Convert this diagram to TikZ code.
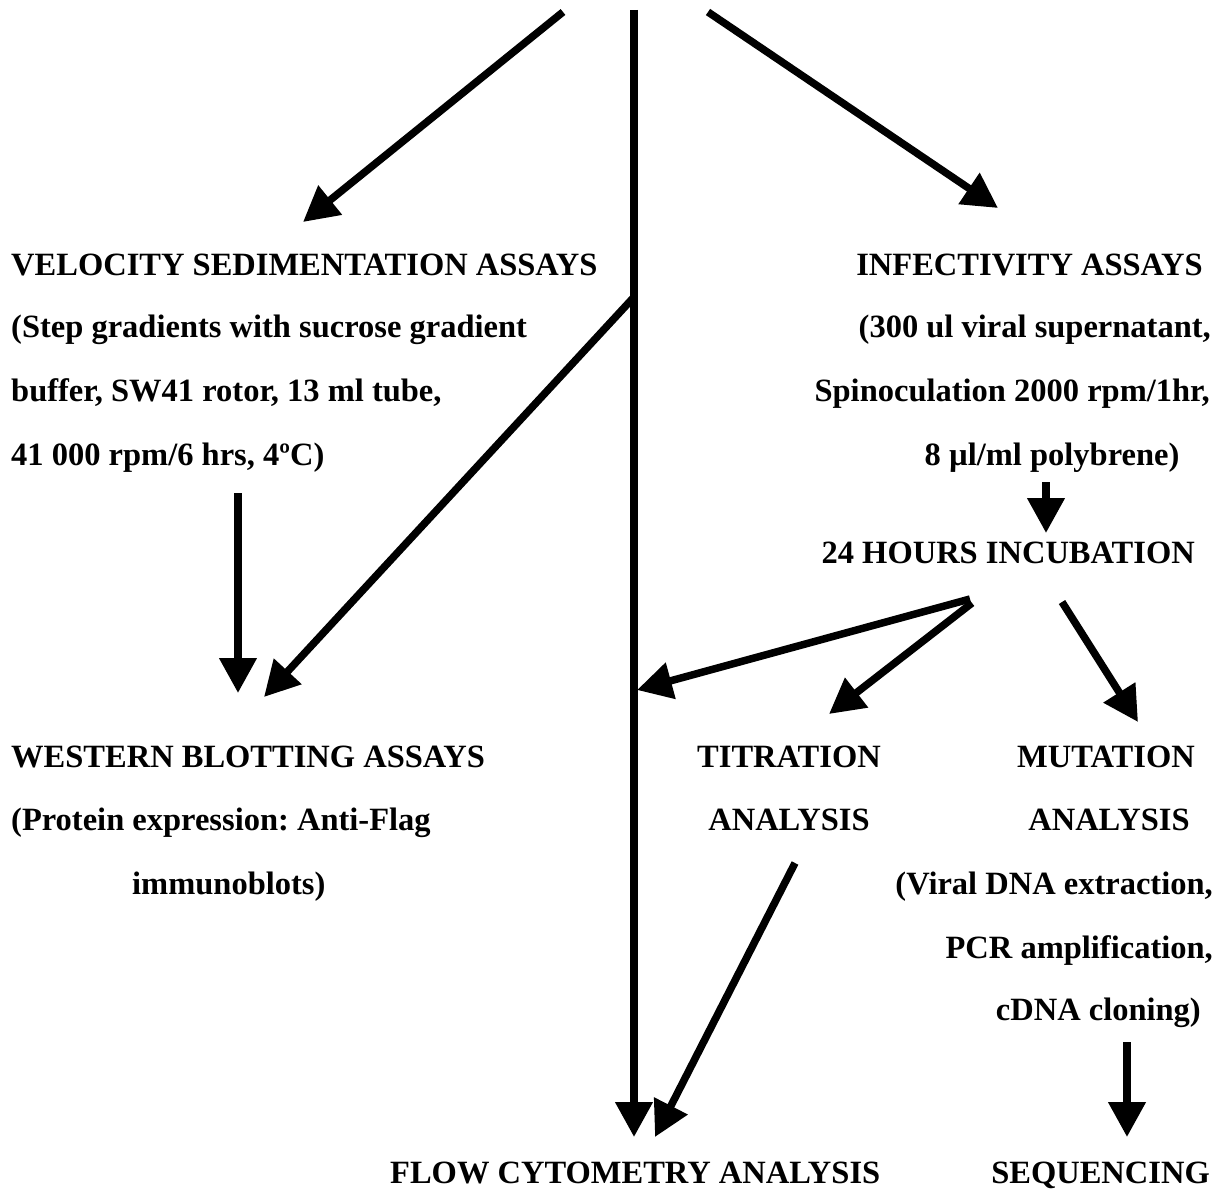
\documentclass[tikz,border=0pt]{standalone}
\usepackage{fontspec}
\setmainfont{Liberation Serif}
\usetikzlibrary{arrows.meta}
\frenchspacing
\begin{document}
\begin{tikzpicture}[x=1pt,y=-1pt,
  txt/.style={font=\fontsize{32.5}{39}\selectfont\bfseries, inner sep=0pt},
  arr/.style={line width=7.5pt, -{Triangle[length=35pt,width=36pt]}}]
\useasboundingbox (0,0) rectangle (1217,1188);

% left column
\node[txt,anchor=base west] (vel1) at (11,275) {VELOCITY SEDIMENTATION ASSAYS};
\node[txt,anchor=base west] (vel2) at (11,337) {(Step gradients with sucrose gradient};
\node[txt,anchor=base west] (vel3) at (11,401) {buffer, SW41 rotor, 13 ml tube,};
\node[txt,anchor=base west] (vel4) at (11,465) {41 000 rpm/6 hrs, 4ºC)};

\node[txt,anchor=base west] (wb1) at (11,767) {WESTERN BLOTTING ASSAYS};
\node[txt,anchor=base west] (wb2) at (11,830) {(Protein expression: Anti-Flag};
\node[txt,anchor=base west] (wb3) at (132,894) {immunoblots)};

% right column
\node[txt,anchor=base east] (inf1) at (1203,275) {INFECTIVITY ASSAYS};
\node[txt,anchor=base east] (inf2) at (1211,337) {(300 ul viral supernatant,};
\node[txt,anchor=base east] (inf3) at (1210,401) {Spinoculation 2000 rpm/1hr,};
\node[txt,anchor=base] (inf4) at (1052,465) {8 µl/ml polybrene)};
\node[txt,anchor=base east] (inc) at (1195,563) {24 HOURS INCUBATION};

\node[txt,anchor=base] (tit1) at (789,767) {TITRATION};
\node[txt,anchor=base] (tit2) at (789,830) {ANALYSIS};
\node[txt,anchor=base] (mut1) at (1106,767) {MUTATION};
\node[txt,anchor=base] (mut2) at (1109,830) {ANALYSIS};
\node[txt,anchor=base east] (mut3) at (1213,894) {(Viral DNA extraction,};
\node[txt,anchor=base east] (mut4) at (1213,958) {PCR amplification,};
\node[txt,anchor=base east] (mut5) at (1201,1020) {cDNA cloning)};

\node[txt,anchor=base west] (flow) at (390,1183) {FLOW CYTOMETRY ANALYSIS};
\node[txt,anchor=base east] (seq) at (1210,1183) {SEQUENCING};

% connector end points
\coordinate (top)   at (634,10);
\coordinate (ltop)  at (563,12);
\coordinate (rtop)  at (708,12);
\coordinate (ltip)  at (303,222);
\coordinate (rtip)  at (998,208);
\coordinate (branch) at (634,297);
\coordinate (wbtipA) at (264,697);
\coordinate (velbot) at (238,493);
\coordinate (wbtipB) at (238,693);
\coordinate (infbot) at (1046,482);
\coordinate (inctip) at (1046,533);
\coordinate (incA) at (970,599);
\coordinate (lineTip) at (637,690);
\coordinate (incB) at (972,603);
\coordinate (titTip) at (829,714);
\coordinate (incC) at (1062,602);
\coordinate (mutTip) at (1138,722);
\coordinate (titbot) at (795,863);
\coordinate (flowTipB) at (655,1137);
\coordinate (flowTipA) at (634,1137);
\coordinate (mutbot) at (1127,1042);
\coordinate (seqTip) at (1127,1137);

% connectors
\draw[arr] (ltop) -- (ltip);
\draw[arr] (rtop) -- (rtip);
\draw[arr] (top) -- (flowTipA);
\draw[arr] (branch) -- (wbtipA);
\draw[arr] (velbot) -- (wbtipB);
\draw[arr] (infbot) -- (inctip);
\draw[arr] (incA) -- (lineTip);
\draw[arr] (incB) -- (titTip);
\draw[arr] (incC) -- (mutTip);
\draw[arr] (titbot) -- (flowTipB);
\draw[arr] (mutbot) -- (seqTip);
\end{tikzpicture}
\end{document}
